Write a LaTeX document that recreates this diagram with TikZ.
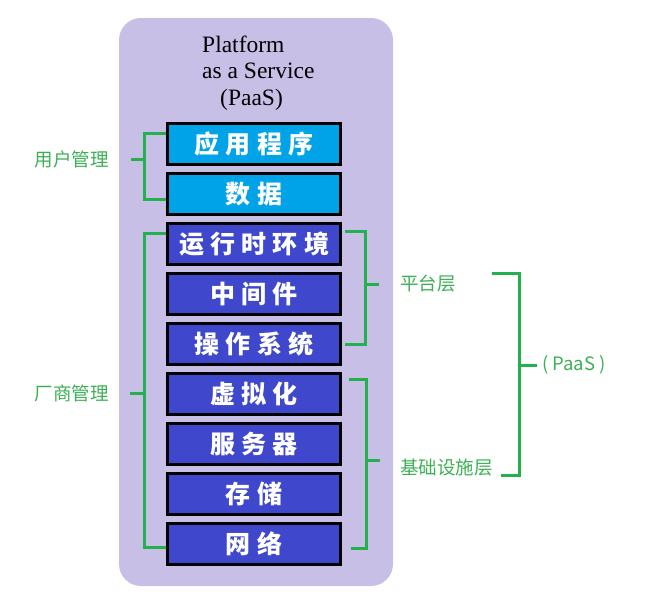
\documentclass[tikz,border=0pt]{standalone}
\usepackage{fontspec}
\usepackage{tikz}
\usetikzlibrary{positioning}
\setmainfont{Liberation Serif}
\newfontfamily\cjk{Noto Sans CJK SC}
\newfontfamily\cjkspaced[LetterSpace=25]{Noto Sans CJK SC}
\definecolor{lavender}{HTML}{C8BFE7}
\definecolor{appblue}{HTML}{00A2E8}
\definecolor{layerblue}{HTML}{3F48CC}
\definecolor{brkgreen}{HTML}{22B14C}
\definecolor{lblgreen}{HTML}{3CB054}
\tikzset{
	layer/.style={draw=black, line width=3pt, minimum width=173pt, minimum height=41pt, inner sep=0pt, text=white, font=\cjkspaced\bfseries\fontsize{25}{25}\selectfont},
	brk/.style={brkgreen, line width=3pt},
	lbl/.style={text=lblgreen, inner sep=0pt, font=\cjk\fontsize{18.5}{20}\selectfont},
	title/.style={anchor=base west, inner sep=0pt, font=\fontsize{23.5}{26}\selectfont}
}

\begin{document}
\begin{tikzpicture}[x=1pt, y=-1pt]
	\useasboundingbox (0,0) rectangle (660,605);
	\fill[lavender, rounded corners=22pt] (119,18) rectangle (393,586);
	\node[title] (t1) at (202,52) {Platform};
	\node[title] (t2) at (202,78.5) {as a Service};
	\node[title] (t3) at (220,105) {(PaaS)};
	\foreach \name [count=\i] in {应用程序, 数据, 运行时环境, 中间件, 操作系统, 虚拟化, 服务器, 存储, 网络}
	{
		\pgfmathparse{\i < 3 ? "appblue" : "layerblue"}
		\edef\colour{\pgfmathresult}
		\node[layer, fill=\colour] (b\i) at (254, 94+50*\i) {\name};
	}
	\draw[brk] ([yshift=11pt]b1.west) -- ++(-22pt,0) |- ([yshift=-5pt]b2.west);
	\coordinate (userend) at (131,159);
	\draw[brk] (144,159) -- (userend);
	\node[lbl, left=22pt of userend] (user) {用户管理};
	\draw[brk] ([yshift=11pt]b3.west) -- ++(-22pt,0) |- ([yshift=-3pt]b9.west);
	\coordinate (vendend) at (130,393);
	\draw[brk] (144,393) -- (vendend);
	\node[lbl, left=21pt of vendend] (vendor) {厂商管理};
	\draw[brk] ([xshift=3pt, yshift=13pt]b3.east) -- ++(20pt,0) |- ([xshift=3pt]b5.east);
	\coordinate (platend) at (379,284);
	\draw[brk] (365,284) -- (platend);
	\node[lbl, right=21pt of platend] (plat) {平台层};
	\draw[brk] ([xshift=7pt, yshift=15pt]b6.east) -- ++(17pt,0) |- ([xshift=9pt, yshift=-4pt]b9.east);
	\coordinate (infend) at (380,460);
	\draw[brk] (366,460) -- (infend);
	\node[lbl, right=20pt of infend, yshift=-8pt] (infra) {基础设施层};
	\draw[brk] (492,273) -- (519,273) -- (519,475) -- (501,475);
	\coordinate (paasend) at (537,365);
	\draw[brk] (519,365) -- (paasend);
	\node[lbl, right=5pt of paasend] (paas) {( PaaS )};
\end{tikzpicture}
\end{document}
